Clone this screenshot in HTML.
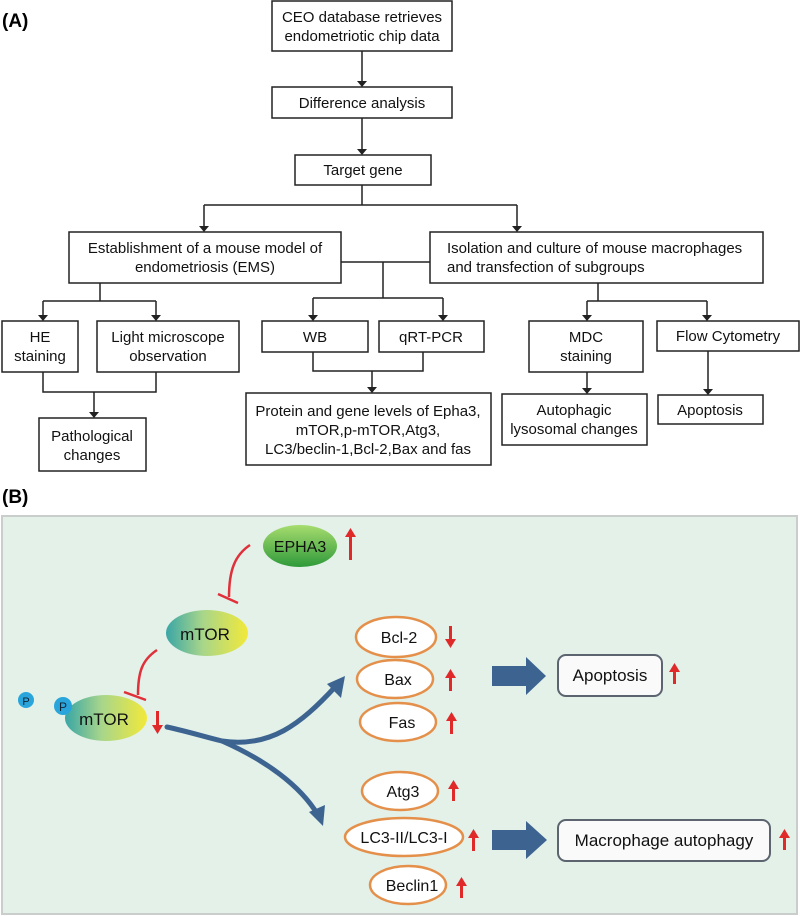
<!DOCTYPE html>
<html><head><meta charset="utf-8"><style>
html,body{margin:0;padding:0;background:#fff;}
svg{display:block;}
text{font-family:"Liberation Sans",Arial,sans-serif;}
</style></head><body>
<svg width="800" height="916" viewBox="0 0 800 916" xmlns="http://www.w3.org/2000/svg">
<defs>
<marker id="ah" markerWidth="10" markerHeight="10" refX="5" refY="9" orient="auto" markerUnits="userSpaceOnUse" viewBox="0 0 10 10">
</marker>
<linearGradient id="gm" x1="0" y1="0" x2="1" y2="0">
<stop offset="0" stop-color="#3aa6a6"/><stop offset="0.45" stop-color="#a8d68a"/><stop offset="1" stop-color="#f2e93a"/>
</linearGradient>
<linearGradient id="ge" x1="0" y1="0" x2="0" y2="1">
<stop offset="0" stop-color="#a6dc6e"/><stop offset="1" stop-color="#2f9a3a"/>
</linearGradient>
</defs>
<text x="2" y="27" font-size="19" font-weight="bold">(A)</text>
<g stroke="#222" stroke-width="1.5" fill="none">
<rect x="272" y="1" width="180" height="50" fill="#fff"/>
<rect x="272" y="87" width="180" height="31"/>
<rect x="295" y="155" width="136" height="30"/>
<rect x="69" y="232" width="272" height="51"/>
<rect x="430" y="232" width="333" height="51"/>
<rect x="2" y="321" width="76" height="51"/>
<rect x="97" y="321" width="142" height="51"/>
<rect x="39" y="418" width="107" height="53"/>
<rect x="262" y="321" width="106" height="31"/>
<rect x="379" y="321" width="105" height="31"/>
<rect x="246" y="393" width="245" height="72"/>
<rect x="529" y="321" width="114" height="51"/>
<rect x="657" y="321" width="142" height="30"/>
<rect x="502" y="394" width="145" height="51"/>
<rect x="658" y="395" width="105" height="29"/>
<path d="M362 51V81M362 118V149M362 185V205M204 205H517M204 205V226M517 205V226"/>
<path d="M341 262H430M383 262V298M313 298H443M313 298V315M443 298V315"/>
<path d="M100 283V301M43 301H156M43 301V315M156 301V315"/>
<path d="M43 372V392H156V372M94 392V412"/>
<path d="M313 352V371H423V352M372 371V387"/>
<path d="M598 283V301M587 301H707M587 301V315M707 301V315"/>
<path d="M587 372V388M708 351V389"/>
</g>
<g fill="#222">
<path d="M357 81H367L362 87Z"/><path d="M357 149H367L362 155Z"/>
<path d="M199 226H209L204 232Z"/><path d="M512 226H522L517 232Z"/>
<path d="M308 315H318L313 321Z"/><path d="M438 315H448L443 321Z"/>
<path d="M38 315H48L43 321Z"/><path d="M151 315H161L156 321Z"/>
<path d="M89 412H99L94 418Z"/><path d="M367 387H377L372 393Z"/>
<path d="M582 315H592L587 321Z"/><path d="M702 315H712L707 321Z"/>
<path d="M582 388H592L587 394Z"/><path d="M703 389H713L708 395Z"/>
</g>
<g font-size="15" fill="#111" text-anchor="middle">
<text x="362" y="22">CEO database retrieves</text>
<text x="362" y="41">endometriotic chip data</text>
<text x="362" y="108">Difference analysis</text>
<text x="363" y="175">Target gene</text>
<text x="205" y="253">Establishment of a mouse model of</text>
<text x="205" y="272">endometriosis (EMS)</text>
<text x="447" y="253" text-anchor="start">Isolation and culture of mouse macrophages</text>
<text x="447" y="272" text-anchor="start">and transfection of subgroups</text>
<text x="40" y="342">HE</text><text x="40" y="361">staining</text>
<text x="168" y="342">Light microscope</text><text x="168" y="361">observation</text>
<text x="92" y="441">Pathological</text><text x="92" y="460">changes</text>
<text x="315" y="342">WB</text>
<text x="431" y="342">qRT-PCR</text>
<text x="368" y="416">Protein and gene levels of Epha3,</text>
<text x="368" y="435">mTOR,p-mTOR,Atg3,</text>
<text x="368" y="454">LC3/beclin-1,Bcl-2,Bax and fas</text>
<text x="586" y="342">MDC</text><text x="586" y="361">staining</text>
<text x="728" y="341">Flow Cytometry</text>
<text x="574" y="415">Autophagic</text><text x="574" y="434">lysosomal changes</text>
<text x="710" y="415">Apoptosis</text>
</g>
<text x="2" y="503" font-size="19" font-weight="bold">(B)</text>
<rect x="2" y="516" width="795" height="398" fill="#e3f1e9" stroke="#c9cdcb" stroke-width="2"/>
<!-- EPHA3 -->
<ellipse cx="300" cy="546" rx="37" ry="21" fill="url(#ge)"/>
<text x="300" y="552" font-size="16" text-anchor="middle" fill="#111">EPHA3</text>
<g fill="#e02a2a" stroke="none">
<path d="M349 560h3v-23h4l-5.5-9l-5.5 9h4z"/>
<path d="M156 711h3v14h4l-5.5 9l-5.5-9h4z"/>
<path d="M449 626h3v13h4l-5.5 9l-5.5-9h4z"/>
<path d="M449 691h3v-13h4l-5.5-9l-5.5 9h4z"/>
<path d="M450 734h3v-13h4l-5.5-9l-5.5 9h4z"/>
<path d="M452 801h3v-12h4l-5.5-9l-5.5 9h4z"/>
<path d="M472 851h3v-13h4l-5.5-9l-5.5 9h4z"/>
<path d="M460 898h3v-12h4l-5.5-9l-5.5 9h4z"/>
<path d="M673 684h3v-12h4l-5.5-9l-5.5 9h4z"/>
<path d="M783 850h3v-12h4l-5.5-9l-5.5 9h4z"/>
</g>
<g stroke="#e0303a" stroke-width="2.5" fill="none">
<path d="M250 545C235 555 229 570 229 597"/>
<path d="M218 594L238 603"/>
<path d="M157 650C142 660 138 672 138 695"/>
<path d="M124 692L146 700"/>
</g>
<ellipse cx="207" cy="633" rx="41" ry="23" fill="url(#gm)"/>
<text x="205" y="640" font-size="17" text-anchor="middle" fill="#111">mTOR</text>
<ellipse cx="106" cy="718" rx="41" ry="23" fill="url(#gm)"/>
<text x="104" y="725" font-size="17" text-anchor="middle" fill="#111">mTOR</text>
<circle cx="26" cy="700" r="8" fill="#2aa5dc"/>
<text x="26" y="705" font-size="11" text-anchor="middle" fill="#123">P</text>
<circle cx="63" cy="706" r="9" fill="#2aa5dc"/>
<text x="63" y="711" font-size="12" text-anchor="middle" fill="#123">P</text>
<!-- blue curves -->
<g stroke="#3d6491" stroke-width="5" fill="none" stroke-linecap="round">
<path d="M167 727C190 732 205 737 222 741C270 748 300 725 336 686"/>
<path d="M222 741C265 760 300 785 318 815"/>
</g>
<g fill="#3d6491">
<path d="M345 676L341 698L327 684Z"/>
<path d="M323 826L309 812L325 805Z"/>
<path d="M492 666h34v-9l20 19l-20 19v-9h-34z"/>
<path d="M492 830h34v-9l21 19l-21 19v-9h-34z"/>
</g>
<g fill="#fff" stroke="#e4904a" stroke-width="2.5">
<ellipse cx="396" cy="637" rx="40" ry="20"/>
<ellipse cx="395" cy="679" rx="38" ry="19"/>
<ellipse cx="398" cy="722" rx="38" ry="19"/>
<ellipse cx="400" cy="791" rx="38" ry="19"/>
<ellipse cx="404" cy="837" rx="59" ry="19"/>
<ellipse cx="408" cy="885" rx="38" ry="19"/>
</g>
<g font-size="16" text-anchor="middle" fill="#111">
<text x="399" y="643">Bcl-2</text>
<text x="398" y="685">Bax</text>
<text x="402" y="728">Fas</text>
<text x="403" y="797">Atg3</text>
<text x="404" y="843">LC3-II/LC3-I</text>
<text x="412" y="891">Beclin1</text>
</g>
<rect x="558" y="655" width="104" height="41" rx="8" fill="#fafafa" stroke="#5c6470" stroke-width="2"/>
<text x="610" y="681" font-size="17" text-anchor="middle" fill="#111">Apoptosis</text>
<rect x="558" y="820" width="212" height="41" rx="8" fill="#fafafa" stroke="#5c6470" stroke-width="2"/>
<text x="664" y="846" font-size="17" text-anchor="middle" fill="#111">Macrophage autophagy</text>
</svg>
</body></html>
